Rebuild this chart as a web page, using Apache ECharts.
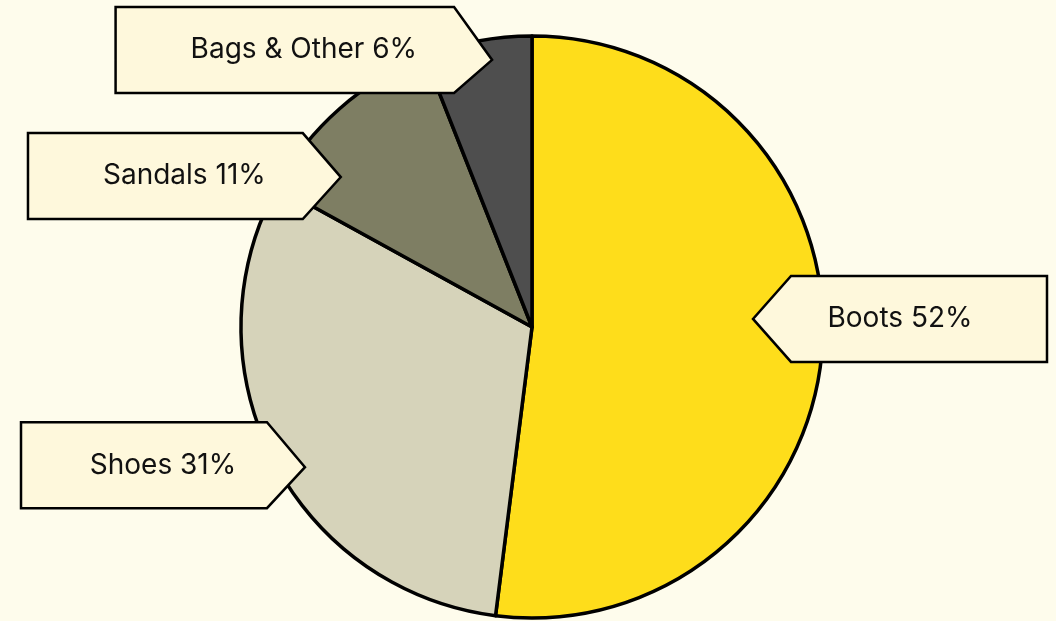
<!DOCTYPE html>
<html>
<head>
<meta charset="utf-8">
<script src="https://cdn.jsdelivr.net/npm/echarts@6/dist/echarts.min.js"></script>
<style>
  html, body { margin: 0; padding: 0; background: #FEFCEC; }
  #chart { width: 1056px; height: 621px; }
</style>
</head>
<body>
<div id="chart"></div>
<script>
// Sales mix by product line
const categories = ['Boots', 'Shoes', 'Sandals', 'Bags & Other'];
const shares = [52, 31, 11, 6];

const sliceColors = ['#FEDD1B', '#D6D3BA', '#7E7E63', '#4E4E4E'];

// Callout placement relative to each slice: rotation of the pointer (deg, screen),
// how far along the radius the pointer reaches, and vertical shift of the box.
const calloutTweaks = [
  { turn: -5.7, reach: 0.76, lift: 0 },
  { turn: -4.7, reach: 0.917, lift: -2 },
  { turn: -10.5, reach: 0.835, lift: -1 },
  { turn: 2.3, reach: 0.928, lift: -10 }
];

const PIE_CENTER = [532, 327];
const PIE_RADIUS = 291;
const FONT = '400 28px Inter, "Noto Sans", sans-serif';
const BOX_H = 86;
const ARROW = 38;
const PAD = 150;

const chart = echarts.init(document.getElementById('chart'), null, { renderer: 'canvas' });

chart.setOption({
  backgroundColor: '#FEFCEC',
  animation: false,
  series: [{
    type: 'pie',
    center: PIE_CENTER,
    radius: PIE_RADIUS,
    startAngle: 90,
    clockwise: true,
    silent: true,
    label: { show: false },
    labelLine: { show: false },
    itemStyle: { borderColor: '#000000', borderWidth: 3.5, borderJoin: 'round' },
    emphasis: { disabled: true },
    data: categories.map((name, i) => ({
      name,
      value: shares[i],
      itemStyle: { color: sliceColors[i] }
    }))
  }]
});

// Measure label text with the same font used on the canvas
const measureCtx = document.createElement('canvas').getContext('2d');
measureCtx.font = FONT;

function sliceLayout(i) {
  try {
    const lay = chart.getModel().getSeriesByIndex(0).getData().getItemLayout(i);
    if (lay && isFinite(lay.startAngle)) return lay;
  } catch (e) {}
  // Fallback: same geometry computed from the shares
  const total = shares.reduce((a, b) => a + b, 0);
  let acc = 0;
  for (let k = 0; k < i; k++) acc += shares[k];
  const start = (-90 + acc / total * 360) * Math.PI / 180;
  const end = (-90 + (acc + shares[i]) / total * 360) * Math.PI / 180;
  return { cx: PIE_CENTER[0], cy: PIE_CENTER[1], r: PIE_RADIUS, startAngle: start, endAngle: end };
}

const W = chart.getWidth();
const elements = categories.map((name, i) => {
  const lay = sliceLayout(i);
  const t = calloutTweaks[i];
  const mid = (lay.startAngle + lay.endAngle) / 2 + t.turn * Math.PI / 180;
  const tipX = lay.cx + Math.cos(mid) * lay.r * t.reach;
  const tipY = lay.cy + Math.sin(mid) * lay.r * t.reach;
  const text = name + ' ' + shares[i] + '%';
  const textW = measureCtx.measureText(text).width;
  const boxCy = tipY + t.lift;
  const top = boxCy - BOX_H / 2;
  const bottom = boxCy + BOX_H / 2;
  let points, farEdge;
  const onRight = tipX > lay.cx;
  if (onRight) {
    const body = tipX + ARROW;
    farEdge = Math.min(tipX + textW + PAD, W - 9);
    points = [[farEdge, top], [body, top], [tipX, tipY], [body, bottom], [farEdge, bottom]];
  } else {
    const body = tipX - ARROW;
    farEdge = Math.max(tipX - textW - PAD, 21);
    points = [[farEdge, top], [body, top], [tipX, tipY], [body, bottom], [farEdge, bottom]];
  }
  const textX = (farEdge + tipX) / 2;
  return {
    type: 'group',
    z: 100,
    children: [
      {
        type: 'polygon',
        z: 100,
        shape: { points },
        style: { fill: '#FEF8DC', stroke: '#000000', lineWidth: 2.5, lineJoin: 'miter' }
      },
      {
        type: 'text',
        z: 101,
        style: {
          text,
          x: textX,
          y: boxCy,
          align: 'center',
          verticalAlign: 'middle',
          font: FONT,
          fill: '#111111'
        }
      }
    ]
  };
});

chart.setOption({ graphic: { elements } });
</script>
</body>
</html>
